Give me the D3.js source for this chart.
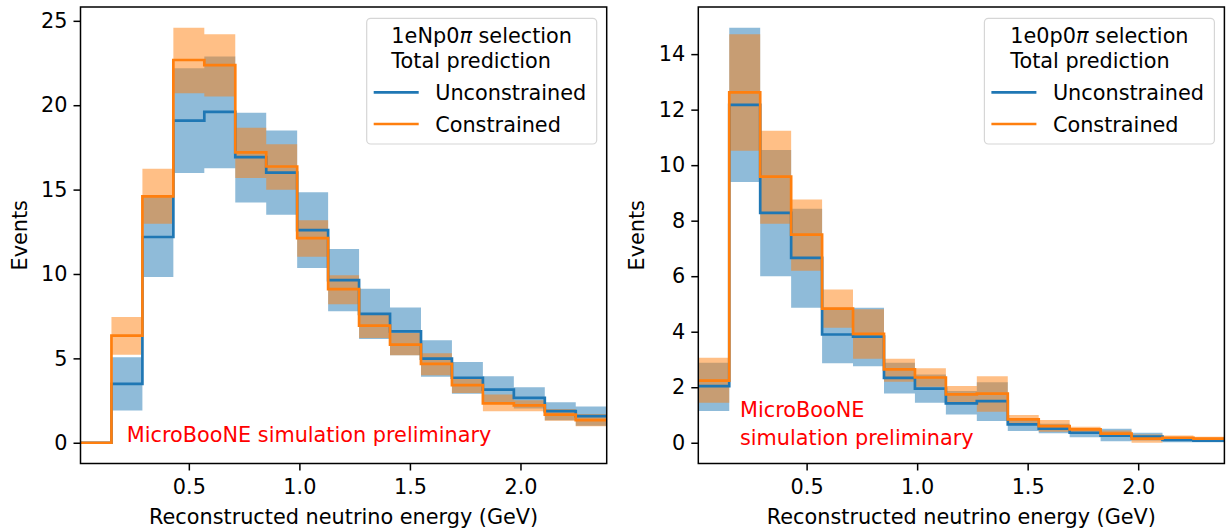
<!DOCTYPE html>
<html>
<head>
<meta charset="utf-8">
<script src="https://cdn.jsdelivr.net/npm/d3@7"></script>
<style>
  body { margin: 0; background: #fff; }
  text { font-family: "DejaVu Sans", sans-serif; }
</style>
</head>
<body>
<svg id="fig" width="1229" height="531"></svg>
<script>
// bin edges in reconstructed energy (GeV), 17 bins of 0.14
var binEdges = [0.01, 0.15, 0.29, 0.43, 0.57, 0.71, 0.85, 0.99, 1.13, 1.27, 1.41, 1.55, 1.69, 1.83, 1.97, 2.11, 2.25, 2.39];

// 1eNp0pi selection
var npUncons    = [0, 3.49, 12.19, 19.09, 19.6, 16.92, 16.01, 12.6, 9.64, 7.64, 6.6, 4.99, 3.85, 3.15, 2.66, 1.87, 1.58];
var npUnconsLo  = [0, 1.91, 9.82, 15.98, 16.27, 14.24, 13.51, 10.36, 7.79, 6.15, 5.18, 3.91, 2.91, 2.36, 2.03, 1.34, 1.01];
var npUnconsHi  = [0, 5.07, 14.6, 22.19, 22.88, 19.56, 18.5, 14.85, 11.48, 9.13, 8.02, 6.07, 4.79, 3.94, 3.29, 2.4, 2.15];
var npCons      = [0, 6.35, 14.6, 22.68, 22.37, 17.2, 16.37, 12.13, 9.1, 6.94, 5.82, 4.67, 3.41, 2.33, 2.21, 1.67, 1.34];
var npConsLo    = [0, 5.22, 12.98, 20.71, 20.51, 15.68, 14.99, 11.02, 8.2, 6.2, 5.18, 4.0, 2.95, 1.87, 1.87, 1.3, 0.98];
var npConsHi    = [0, 7.45, 16.23, 24.59, 24.2, 18.67, 17.69, 13.19, 9.93, 7.58, 6.51, 5.3, 3.8, 2.86, 2.52, 2.0, 1.7];

// 1e0p0pi selection
var zpUncons    = [2.04, 12.17, 8.28, 6.66, 3.9, 3.82, 2.34, 1.95, 1.42, 1.5, 0.66, 0.51, 0.36, 0.26, 0.22, 0.1, 0.08];
var zpUnconsLo  = [1.14, 9.39, 6.0, 4.86, 2.86, 2.76, 1.77, 1.44, 1.02, 0.78, 0.42, 0.34, 0.2, 0.05, 0.08, 0.02, 0.02];
var zpUnconsHi  = [2.88, 14.95, 10.55, 8.43, 4.86, 4.86, 2.88, 2.46, 1.86, 2.18, 0.88, 0.68, 0.52, 0.5, 0.36, 0.18, 0.14];
var zpCons      = [2.24, 12.62, 9.59, 7.5, 4.83, 3.92, 2.64, 2.35, 1.74, 1.77, 0.84, 0.6, 0.48, 0.33, 0.15, 0.18, 0.15];
var zpConsLo    = [1.44, 10.52, 7.89, 6.2, 4.14, 3.03, 2.2, 2.02, 1.44, 1.12, 0.68, 0.4, 0.38, 0.22, 0.0, 0.1, 0.08];
var zpConsHi    = [3.06, 14.72, 11.24, 8.76, 5.52, 4.81, 3.03, 2.68, 2.04, 2.4, 1.0, 0.82, 0.58, 0.44, 0.3, 0.26, 0.22];

var xTicks = [0.5, 1.0, 1.5, 2.0];
var npYTicks = [0, 5, 10, 15, 20, 25];
var zpYTicks = [0, 2, 4, 6, 8, 10, 12, 14];

var blue = "#1f77b4", orange = "#ff7f0e";
var fontSize = 20.8;

var svg = d3.select("#fig");

function drawPanel(cfg) {
    var x = d3.scaleLinear().domain([binEdges[0], binEdges[binEdges.length - 1]]).range([cfg.left, cfg.right]);
    // matplotlib style 5% margin around the data
    var ymax = d3.max(cfg.consHi.concat(cfg.unconsHi));
    var pad = ymax * 0.05;
    var y = d3.scaleLinear().domain([-pad, ymax + pad]).range([cfg.bottom, cfg.top]);

    var g = svg.append("g");
    var clipId = "clip" + cfg.id;
    g.append("clipPath").attr("id", clipId).append("rect")
        .attr("x", cfg.left).attr("y", cfg.top)
        .attr("width", cfg.right - cfg.left).attr("height", cfg.bottom - cfg.top);

    var plot = g.append("g").attr("clip-path", "url(#" + clipId + ")");

    // repeat the last bin so the step reaches the final edge
    function stepPts(c, lo, hi) {
        return binEdges.map((e, i) => {
            var k = Math.min(i, c.length - 1);
            return { x: e, c: c[k], lo: lo[k], hi: hi[k] };
        });
    }

    var band = d3.area().curve(d3.curveStepAfter)
        .x(d => x(d.x)).y0(d => y(d.lo)).y1(d => y(d.hi));
    var line = d3.line().curve(d3.curveStepAfter)
        .x(d => x(d.x)).y(d => y(d.c));

    var uPts = stepPts(cfg.uncons, cfg.unconsLo, cfg.unconsHi);
    var cPts = stepPts(cfg.cons, cfg.consLo, cfg.consHi);

    plot.append("path").attr("d", band(uPts)).attr("fill", blue).attr("fill-opacity", 0.5);
    plot.append("path").attr("d", band(cPts)).attr("fill", orange).attr("fill-opacity", 0.5);
    plot.append("path").attr("d", line(uPts)).attr("fill", "none").attr("stroke", blue).attr("stroke-width", 2.7);
    plot.append("path").attr("d", line(cPts)).attr("fill", "none").attr("stroke", orange).attr("stroke-width", 2.7);

    // axes
    var xAxis = d3.axisBottom(x).tickValues(xTicks).tickFormat(d3.format(".1f")).tickSizeOuter(0).tickSize(7).tickPadding(5);
    var yAxis = d3.axisLeft(y).tickValues(cfg.yTicks).tickFormat(d3.format("d")).tickSizeOuter(0).tickSize(7).tickPadding(6);

    var gx = g.append("g").attr("transform", "translate(0," + cfg.bottom + ")").call(xAxis);
    var gy = g.append("g").attr("transform", "translate(" + cfg.left + ",0)").call(yAxis);
    [gx, gy].forEach(a => {
        a.select(".domain").remove();
        a.selectAll(".tick line").attr("stroke", "#000").attr("stroke-width", 1.5);
        a.selectAll(".tick text").attr("fill", "#000").style("font-size", fontSize + "px")
            .style("font-family", "DejaVu Sans");
    });
    gx.selectAll(".tick text").attr("y", 30.8).attr("dy", 0);

    // frame
    g.append("rect").attr("x", cfg.left).attr("y", cfg.top)
        .attr("width", cfg.right - cfg.left).attr("height", cfg.bottom - cfg.top)
        .attr("fill", "none").attr("stroke", "#000").attr("stroke-width", 1.5);

    // axis labels
    g.append("text").attr("x", (cfg.left + cfg.right) / 2).attr("y", 523.5)
        .attr("text-anchor", "middle").style("font-size", fontSize + "px")
        .text("Reconstructed neutrino energy (GeV)");
    g.append("text")
        .attr("transform", "translate(" + (cfg.left - 54) + "," + ((cfg.top + cfg.bottom) / 2) + ") rotate(-90)")
        .attr("text-anchor", "middle").style("font-size", fontSize + "px")
        .text("Events");

    // red watermark
    cfg.note.forEach((t, i) => {
        g.append("text").attr("x", cfg.left + cfg.noteDx).attr("y", cfg.noteY + i * 27.7)
            .attr("fill", "#ff0000").style("font-size", fontSize + "px").text(t);
    });

    // legend
    var lx = cfg.right - 10 - 230, ly = 18.3;
    var leg = g.append("g");
    leg.append("rect").attr("x", lx).attr("y", ly).attr("width", 230).attr("height", 125.7)
        .attr("rx", 4).attr("fill", "#fff").attr("fill-opacity", 0.8)
        .attr("stroke", "#d6d6d6").attr("stroke-width", 1.2);
    var t1 = leg.append("text").attr("y", 43.3).style("font-size", fontSize + "px");
    t1.append("tspan").text(cfg.selPrefix);
    t1.append("tspan").style("font-style", "italic").text("\u03c0");
    t1.append("tspan").text(" selection");
    var t2 = leg.append("text").attr("y", 68.3).style("font-size", fontSize + "px").text("Total prediction");
    var tw = Math.max(t1.node().getComputedTextLength(), t2.node().getComputedTextLength());
    t1.attr("x", lx + 115 - tw / 2);
    t2.attr("x", lx + 115 - tw / 2);

    [["Unconstrained", blue, 92.3], ["Constrained", orange, 124]].forEach(e => {
        leg.append("line").attr("x1", lx + 7).attr("x2", lx + 52).attr("y1", e[2]).attr("y2", e[2])
            .attr("stroke", e[1]).attr("stroke-width", 2.7);
        leg.append("text").attr("x", lx + 68.5).attr("y", e[2] + 7.5)
            .style("font-size", fontSize + "px").text(e[0]);
    });
}

drawPanel({
    id: "np", left: 80.5, right: 606.7, top: 7, bottom: 463.5,
    uncons: npUncons, unconsLo: npUnconsLo, unconsHi: npUnconsHi,
    cons: npCons, consLo: npConsLo, consHi: npConsHi,
    yTicks: npYTicks, selPrefix: "1eNp0",
    note: ["MicroBooNE simulation preliminary"], noteDx: 46.3, noteY: 442.3
});

drawPanel({
    id: "zp", left: 698.3, right: 1224.4, top: 7, bottom: 463.5,
    uncons: zpUncons, unconsLo: zpUnconsLo, unconsHi: zpUnconsHi,
    cons: zpCons, consLo: zpConsLo, consHi: zpConsHi,
    yTicks: zpYTicks, selPrefix: "1e0p0",
    note: ["MicroBooNE", "simulation preliminary"], noteDx: 41.7, noteY: 417.3
});
</script>
</body>
</html>
